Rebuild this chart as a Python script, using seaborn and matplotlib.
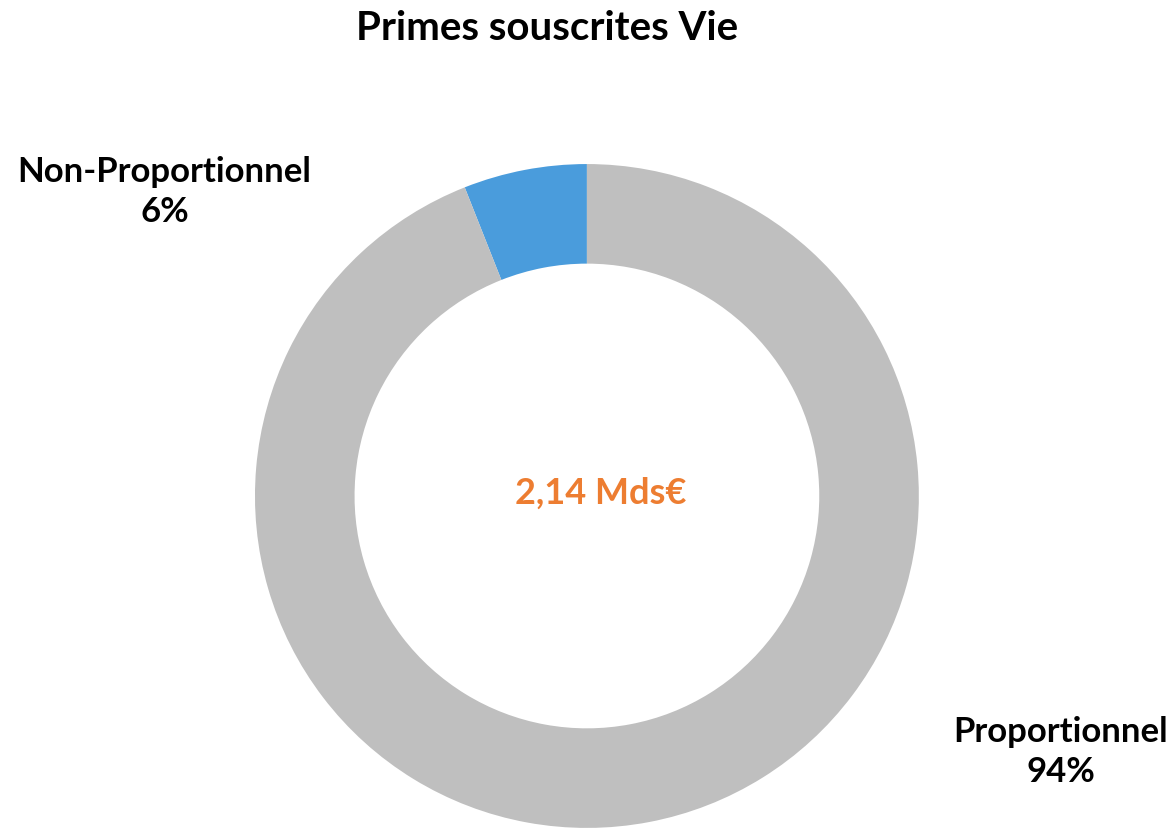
import matplotlib
matplotlib.use("Agg")
import matplotlib.pyplot as plt
import seaborn as sns

# Data
labels = ["Non-Proportionnel", "Proportionnel"]
shares = [6, 94]
colors = ["#4A9CDC", "#BFBFBF"]
total_label = "2,14 Mds€"
title = "Primes souscrites Vie"

sns.set_style("white")
plt.rcParams['font.family'] = ['Lato', 'DejaVu Sans']
plt.rcParams['text.color'] = 'black'

fig = plt.figure(figsize=(11.75, 8.29), dpi=100)
ax = fig.add_axes([0.217, 0.0, 0.565, 0.801])

ax.pie(shares, colors=colors, startangle=90, counterclock=True,
       radius=1, wedgeprops=dict(width=0.30, edgecolor='none'))
ax.set_xlim(-1, 1)
ax.set_ylim(-1, 1)
ax.set_aspect('equal')
ax.axis('off')

# Center text
ax.text(0.04, 0.012, total_label, ha='center', va='center',
        fontsize=26, fontweight='bold', color='#ED7D31')

# Title
fig.text(0.4655, 0.966, title, ha='center', va='center',
         fontsize=29, fontweight='bold', color='black')

# Slice labels
fig.text(0.140, 0.768, f"{labels[0]}\n{shares[0]}%", ha='center', va='center',
         fontsize=25, fontweight='bold', linespacing=1.3, color='black')
fig.text(0.903, 0.093, f"{labels[1]}\n{shares[1]}%", ha='center', va='center',
         fontsize=25, fontweight='bold', linespacing=1.3, color='black')

fig.savefig("out.png", dpi=100, facecolor='white')
